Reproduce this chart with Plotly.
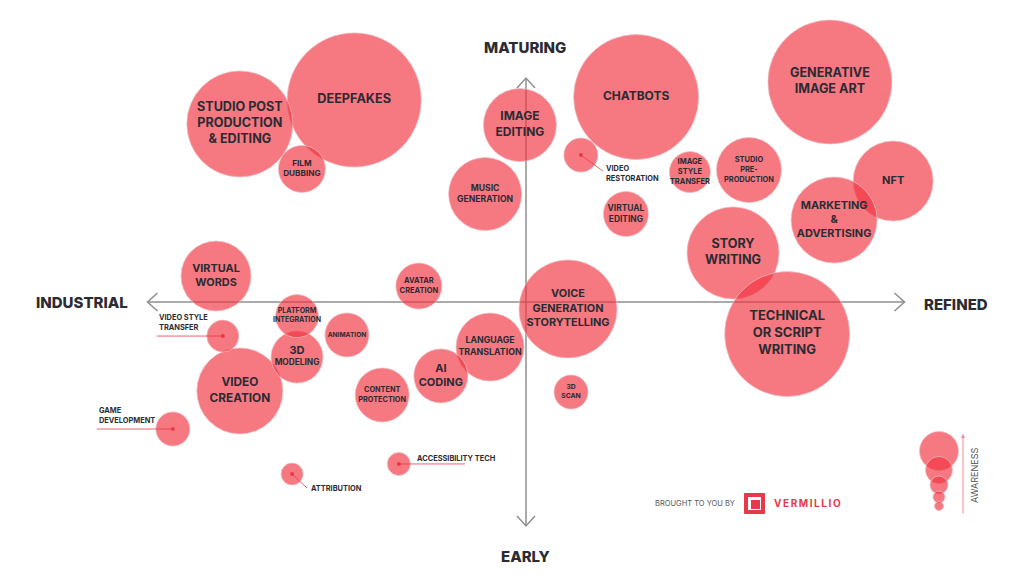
import plotly.graph_objects as go

# Generative AI landscape: x = industrial (-100) .. refined (+100),
# y = early (-100) .. maturing (+100), bubble diameter = awareness
names = ["DEEPFAKES", "STUDIO POST<br>PRODUCTION<br>& EDITING", "FILM<br>DUBBING",
         "IMAGE<br>EDITING", "MUSIC<br>GENERATION", "CHATBOTS", "VIDEO<br>RESTORATION",
         "IMAGE<br>STYLE<br>TRANSFER", "STUDIO<br>PRE-<br>PRODUCTION", "VIRTUAL<br>EDITING",
         "GENERATIVE<br>IMAGE ART", "NFT", "MARKETING<br>&<br>ADVERTISING", "STORY<br>WRITING",
         "TECHNICAL<br>OR SCRIPT<br>WRITING", "VOICE<br>GENERATION<br>STORYTELLING",
         "LANGUAGE<br>TRANSLATION", "AI<br>CODING", "CONTENT<br>PROTECTION",
         "AVATAR<br>CREATION", "ANIMATION", "3D<br>SCAN", "ACCESSIBILITY TECH",
         "ATTRIBUTION", "GAME<br>DEVELOPMENT", "VIDEO<br>CREATION",
         "<span style='font-size:11px'>3D</span><br>MODELING", "PLATFORM<br>INTEGRATION",
         "VIDEO STYLE<br>TRANSFER", "VIRTUAL<br>WORDS"]
refinement = [-45.4, -75.6, -59.2, -1.6, -10.8, 29.1, 14.5, 43.3, 58.9, 26.4,
              80.3, 97.0, 81.4, 54.7, 69.0, 11.1, -9.5, -22.5, -38.0, -28.3,
              -47.3, 11.9, -33.6, -61.8, -93.3, -75.6, -60.5, -60.5, -80.1, -81.9]
maturity = [90.2, 79.5, 59.4, 79.0, 48.2, 91.5, 65.6, 58.0, 58.9, 39.3,
            98.2, 54.0, 36.6, 21.9, -14.3, -3.1, -20.1, -33.0, -41.5, 7.1,
            -14.7, -40.2, -72.3, -76.8, -56.7, -39.7, -24.6, -6.3, -15.2, 11.6]
awareness = [134, 106, 47, 73, 73, 125, 34, 41, 65, 45,
             124, 80, 86, 92, 125, 98, 68, 54, 54, 46,
             44, 34, 23, 22, 34, 86, 52, 43, 32, 70]
legend_sizes = [39, 27, 18, 12, 9]

# styling (screen px: the page body adds an 8 px margin round the figure)
OFF = 8
W, H = 1024 - 2 * OFF, 576 - 2 * OFF
XC, YC, XS, YS = 526, 302, 3.785, 2.24   # centre of the cross in screen px, px per unit
FILL = "rgba(241,49,62,0.65)"
EDGE = "rgba(235,190,195,0.7)"
RED = "#e8394a"
INK = "#2b2b33"
FONT = "Inter"
text_sizes = [12.7, 12.6, 8.2, 12, 8.6, 12, 7.4, 7.5, 7.4, 8.4,
              12.6, 11, 10.9, 12.6, 13, 10.9, 8.8, 11, 7.3, 7.5,
              6.6, 6.8, 7.4, 7.4, 7.4, 11.8, 8.3, 7, 7.4, 10.9]
# labels drawn outside their bubble: index -> (line end dx, dy, text dx, dy, yanchor)
outside = {28: (-66, 0, -66, -2, "bottom"),
           24: (-76, 0, -76, -2, "bottom"),
           23: (15, 14, 17, 14, "middle"),
           22: (66, 0, 16, -5, "middle"),
           6: (22, 16, 23, 18, "middle")}
legend_centres = [451, 470, 485, 497, 506]

inside_text = ["" if i in outside else n for i, n in enumerate(names)]


def fx(sx):
    return (sx - OFF) / W


def fy(sy):
    return 1 - (sy - OFF) / H


fig = go.Figure()
fig.add_trace(go.Scatter(
    x=refinement, y=maturity, mode="markers+text", text=inside_text,
    textposition="middle center",
    textfont=dict(family=FONT, size=text_sizes, color=INK, weight=700),
    marker=dict(size=awareness, sizemode="diameter", color=FILL, opacity=1,
                line=dict(color=EDGE, width=1)),
    hovertext=[n.replace("<br>", " ") for n in names], hoverinfo="text",
    showlegend=False))

dot_x, dot_y = [], []
for i, (lx, ly, tx, ty, ya) in outside.items():
    x, y = refinement[i], maturity[i]
    dot_x.append(x)
    dot_y.append(y)
    fig.add_shape(type="line", x0=x, y0=y, x1=x + lx / XS, y1=y - ly / YS,
                  line=dict(color="rgba(232,57,74,0.8)", width=1))
    fig.add_annotation(x=x, y=y, xshift=tx, yshift=-ty, text=names[i], showarrow=False,
                       xanchor="left", yanchor=ya, align="left",
                       font=dict(family=FONT, size=text_sizes[i], color=INK, weight=700))
fig.add_trace(go.Scatter(x=dot_x, y=dot_y, mode="markers", hoverinfo="skip",
                         marker=dict(size=4, color=RED, opacity=1), showlegend=False))

# the cross of axes with open chevrons
axis_line = dict(color="#8f8f8f", width=1.5)
fig.add_shape(type="line", x0=-100, y0=0, x1=100, y1=0, line=axis_line, layer="below")
fig.add_shape(type="line", x0=0, y0=-100, x1=0, y1=100, line=axis_line, layer="below")
ax, ay = 10 / XS, 9 / YS
bx, by = 9 / XS, 10 / YS
for path in [f"M{-100 + ax},{ay} L-100,0 L{-100 + ax},{-ay}",
             f"M{100 - ax},{ay} L100,0 L{100 - ax},{-ay}",
             f"M{-bx},{100 - by} L0,100 L{bx},{100 - by}",
             f"M{-bx},{-100 + by} L0,-100 L{bx},{-100 + by}"]:
    fig.add_shape(type="path", path=path, line=axis_line, layer="below")

for txt, x, y in [("INDUSTRIAL", 82, 302), ("REFINED", 956, 304),
                  ("MATURING", 525, 48), ("EARLY", 525, 556)]:
    fig.add_annotation(xref="paper", yref="paper", x=fx(x), y=fy(y), text=txt,
                       xanchor="center", yanchor="middle", showarrow=False,
                       font=dict(family=FONT, size=15, color=INK, weight=800))


def box(cx, cy, w, h):
    return dict(xref="paper", yref="paper", x0=fx(cx - w / 2), x1=fx(cx + w / 2),
                y0=fy(cy + h / 2), y1=fy(cy - h / 2))


# awareness key
for d, cy in zip(legend_sizes, legend_centres):
    fig.add_shape(type="circle", fillcolor=FILL, line=dict(color=EDGE, width=1),
                  **box(939, cy, d, d))
fig.add_annotation(xref="paper", yref="paper", x=fx(963), y=fy(434),
                   ax=0, ay=81, axref="pixel", ayref="pixel", text="", showarrow=True,
                   arrowhead=2, arrowsize=0.8, arrowwidth=1, arrowcolor="#f08a92")
fig.add_annotation(xref="paper", yref="paper", x=fx(974), y=fy(476), text="AWARENESS",
                   textangle=-90, xanchor="center", yanchor="middle", showarrow=False,
                   font=dict(family=FONT, size=9, color="#555555"))

# credit
fig.add_annotation(xref="paper", yref="paper", x=fx(653), y=fy(503), xanchor="left",
                   yanchor="middle", text="BROUGHT TO YOU BY", showarrow=False,
                   font=dict(family=FONT, size=7.5, color="#555555"))
fig.add_shape(type="rect", fillcolor=RED, line=dict(color=RED, width=1), **box(754.5, 503.5, 20, 20))
fig.add_shape(type="rect", fillcolor="white", line=dict(width=0), **box(754.5, 503.5, 13, 13))
fig.add_shape(type="rect", fillcolor=RED, line=dict(width=0), **box(755.5, 504.5, 9, 9))
fig.add_annotation(xref="paper", yref="paper", x=fx(772), y=fy(503), xanchor="left",
                   yanchor="middle", text="\u2009".join("VERMILLIO"), showarrow=False,
                   font=dict(family=FONT, size=10, color=RED, weight=700))

fig.update_xaxes(range=[(OFF - XC) / XS, (OFF + W - XC) / XS], visible=False, fixedrange=True)
fig.update_yaxes(range=[(YC - OFF - H) / YS, (YC - OFF) / YS], visible=False, fixedrange=True)
fig.update_layout(width=W, height=H, autosize=False, margin=dict(l=0, r=0, t=0, b=0),
                  plot_bgcolor="white", paper_bgcolor="white")
fig.write_html("out.html")
